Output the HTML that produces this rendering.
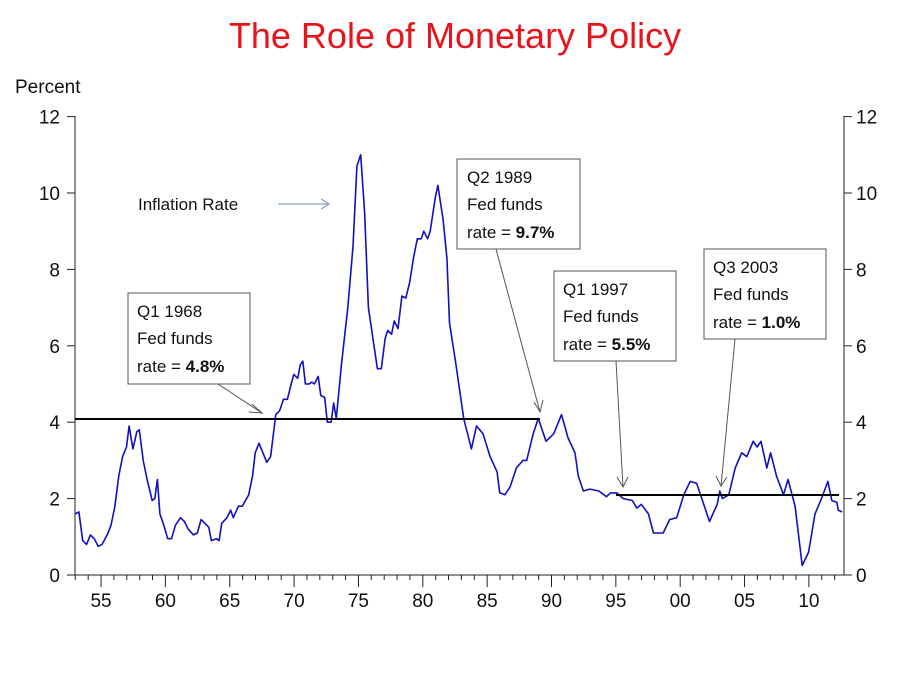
<!DOCTYPE html>
<html><head><meta charset="utf-8"><style>
html,body{margin:0;padding:0;background:#fff;}
svg{display:block;font-family:"Liberation Sans",sans-serif;}
</style></head><body>
<svg id="s" width="900" height="675" viewBox="0 0 900 675" xmlns="http://www.w3.org/2000/svg">
<text x="455" y="48" font-size="36" fill="#e8141b" text-anchor="middle">The Role of Monetary Policy</text>
<text x="15" y="93" font-size="19" fill="#111">Percent</text>
<g id="axes" stroke="#222" stroke-width="1" fill="none">
<line x1="75" y1="116" x2="75" y2="575"/>
<line x1="844" y1="116" x2="844" y2="575"/>
<line x1="75" y1="575" x2="844" y2="575"/>
</g>
<g id="ticks" stroke="#222" stroke-width="1"></g>
<g id="labels" font-size="19" fill="#111"></g>
<polyline id="line" fill="none" stroke="#1010c0" stroke-width="1.6" stroke-linejoin="round"/>
<line x1="75" y1="419" x2="540" y2="419" stroke="#000" stroke-width="2"/>
<line x1="616" y1="495" x2="839" y2="495" stroke="#000" stroke-width="2"/>
<g stroke="#555" stroke-width="1" fill="none">
<line x1="218" y1="384" x2="262" y2="413"/><polyline points="252,404 262,413 249,412"/>
<line x1="496" y1="249" x2="540" y2="412"/><polyline points="534,402 540,412 543,400"/>
<line x1="616" y1="361" x2="623" y2="487"/><polyline points="617,477 623,487 628,477"/>
<line x1="735" y1="339" x2="721" y2="486"/><polyline points="716,476 721,486 727,477"/>
</g>
<g fill="#fff" stroke="#555" stroke-width="1">
<rect x="128" y="293" width="122" height="91"/>
<rect x="457" y="159" width="123" height="90"/>
<rect x="554" y="271" width="122" height="90"/>
<rect x="704" y="249" width="122" height="90"/>
</g>
<g font-size="17" fill="#111">
<text x="137" y="317">Q1 1968</text><text x="137" y="344">Fed funds</text><text x="137" y="372">rate = <tspan font-weight="bold">4.8%</tspan></text>
<text x="467" y="183">Q2 1989</text><text x="467" y="210">Fed funds</text><text x="467" y="238">rate = <tspan font-weight="bold">9.7%</tspan></text>
<text x="563" y="295">Q1 1997</text><text x="563" y="322">Fed funds</text><text x="563" y="350">rate = <tspan font-weight="bold">5.5%</tspan></text>
<text x="713" y="273">Q3 2003</text><text x="713" y="300">Fed funds</text><text x="713" y="328">rate = <tspan font-weight="bold">1.0%</tspan></text>
<text x="138" y="210">Inflation Rate</text>
</g>
<g stroke="#8aa0c0" stroke-width="1.2" fill="none">
<line x1="278" y1="204" x2="329" y2="204"/><polyline points="321,199 329,204 321,209"/>
</g>
</svg>
<script>
const X=y=>75+(y-1953)*12.87, Y=v=>575-v*38.2;
const d=[1953,1.6,1953.3,1.65,1953.6,0.9,1953.9,0.8,1954.2,1.05,1954.5,0.95,1954.8,0.75,1955.1,0.8,1955.5,1.05,1955.8,1.3,1956.1,1.8,1956.4,2.6,1956.7,3.1,1957,3.35,1957.2,3.9,1957.5,3.3,1957.8,3.75,1958,3.8,1958.3,3,1958.6,2.5,1959,1.95,1959.2,2,1959.4,2.5,1959.6,1.6,1959.9,1.3,1960.2,0.95,1960.5,0.95,1960.8,1.3,1961.2,1.5,1961.5,1.4,1961.8,1.2,1962.2,1.05,1962.5,1.1,1962.8,1.45,1963.1,1.35,1963.4,1.25,1963.6,0.9,1964,0.95,1964.2,0.9,1964.4,1.35,1964.8,1.5,1965.1,1.7,1965.3,1.5,1965.7,1.8,1966,1.8,1966.5,2.1,1966.8,2.6,1967,3.2,1967.3,3.45,1967.6,3.2,1967.9,2.95,1968.2,3.1,1968.6,4.2,1968.9,4.3,1969.2,4.6,1969.5,4.6,1969.8,5,1970,5.25,1970.3,5.15,1970.5,5.5,1970.7,5.6,1970.9,5,1971.2,5,1971.4,5.05,1971.6,5,1971.9,5.2,1972.1,4.7,1972.4,4.65,1972.6,4,1972.9,4,1973.1,4.5,1973.3,4.1,1973.7,5.5,1974.2,7,1974.6,8.6,1974.9,10.7,1975.2,11,1975.5,9.5,1975.8,7,1976.1,6.3,1976.5,5.4,1976.8,5.4,1977.1,6.2,1977.3,6.4,1977.6,6.3,1977.8,6.65,1978.1,6.45,1978.4,7.3,1978.7,7.25,1979,7.65,1979.3,8.3,1979.6,8.8,1979.9,8.8,1980.1,9,1980.4,8.8,1980.6,9,1981,9.9,1981.2,10.2,1981.6,9.3,1981.9,8.3,1982.1,6.6,1982.6,5.5,1983.2,4.1,1983.8,3.3,1984.2,3.9,1984.7,3.7,1985.25,3.1,1985.8,2.7,1986,2.15,1986.4,2.1,1986.8,2.3,1987.3,2.8,1987.8,3,1988.1,3,1988.6,3.7,1989,4.1,1989.6,3.5,1990.2,3.7,1990.8,4.2,1991.3,3.6,1991.85,3.2,1992.1,2.6,1992.5,2.2,1993,2.25,1993.7,2.2,1994.3,2.05,1994.6,2.15,1995.1,2.15,1995.6,2,1996.3,1.95,1996.65,1.75,1997,1.85,1997.55,1.6,1997.95,1.1,1998.7,1.1,1999.2,1.45,1999.75,1.5,2000.3,2.1,2000.8,2.45,2001.3,2.4,2001.7,2,2002.3,1.4,2002.9,1.85,2003.1,2.2,2003.3,2,2003.8,2.1,2004.3,2.8,2004.8,3.2,2005.2,3.1,2005.7,3.5,2006,3.35,2006.3,3.5,2006.75,2.8,2007.05,3.2,2007.5,2.6,2008.05,2.1,2008.4,2.5,2008.95,1.8,2009.5,0.25,2010,0.6,2010.5,1.6,2011,2,2011.5,2.45,2011.8,1.95,2012.2,1.9,2012.3,1.7,2012.6,1.65];
let p=[];for(let i=0;i<d.length;i+=2)p.push(X(d[i]).toFixed(1)+","+Y(d[i+1]).toFixed(1));
document.getElementById("line").setAttribute("points",p.join(" "));
const NS="http://www.w3.org/2000/svg";
function el(g,t,a,txt){const e=document.createElementNS(NS,t);for(const k in a)e.setAttribute(k,a[k]);if(txt)e.textContent=txt;document.getElementById(g).appendChild(e);}
for(let v=0;v<=12;v+=2){const y=Y(v);
el("ticks","line",{x1:67,y1:y,x2:75,y2:y});el("ticks","line",{x1:844,y1:y,x2:852,y2:y});
el("labels","text",{x:60,y:y+7,"text-anchor":"end"},String(v));el("labels","text",{x:856,y:y+7},String(v));}
for(let yr=1953;yr<=2012;yr++){const x=X(yr)+0.3;const maj=yr%5==0;
el("ticks","line",{x1:x,y1:575,x2:x,y2:maj?587:580});
if(maj)el("labels","text",{x:x,y:607,"text-anchor":"middle"},String(yr%100).padStart(2,"0"));}
</script>
</body></html>
